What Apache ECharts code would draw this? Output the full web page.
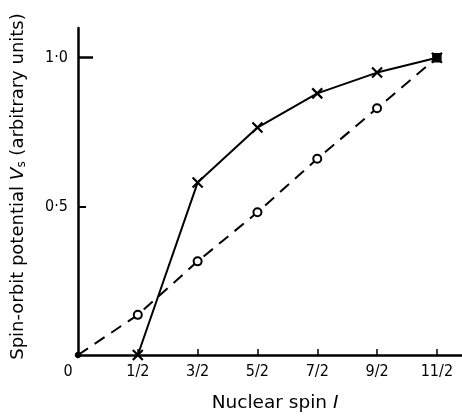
<!DOCTYPE html>
<html>
<head>
<meta charset="utf-8">
<script src="https://cdn.jsdelivr.net/npm/echarts@6/dist/echarts.min.js"></script>
<style>
  html, body { margin: 0; padding: 0; background: #fff; }
  #chart { width: 462px; height: 418px; }
</style>
</head>
<body>
<div id="chart"></div>
<script>
// nuclear spin labels, one per x position
var spinLabels = ["0", "1/2", "3/2", "5/2", "7/2", "9/2", "11/2"];
// crosses (solid line), starts at 1/2
var crossValues = [null, 0.0, 0.58, 0.765, 0.88, 0.95, 1.0];
// circles (dashed line)
var circleValues = [0.0, 0.135, 0.315, 0.48, 0.66, 0.83, 1.0];
var yTicks = [0.5, 1.0];

var FONT = "DejaVu Sans Condensed, DejaVu Sans, sans-serif";
var NAMEFONT = "DejaVu Sans, sans-serif";

var crossData = [];
var circleData = [];
for (var i = 0; i < spinLabels.length; i++) {
  if (crossValues[i] !== null) crossData.push([i, crossValues[i]]);
  var item = { value: [i, circleValues[i]] };
  if (i === 0) {
    item.symbol = "circle";
    item.symbolSize = 5;
    item.itemStyle = { color: "#000" };
  } else if (i === spinLabels.length - 1) {
    item.symbol = "rect";
    item.symbolSize = 8;
    item.itemStyle = { color: "#000" };
  }
  circleData.push(item);
}
var xPos = spinLabels.map(function (s, i) { return i; });

var chart = echarts.init(document.getElementById("chart"));
chart.setOption({
  animation: false,
  grid: { left: 78, right: 0, top: 28, bottom: 63 },
  xAxis: {
    type: "value",
    min: 0,
    max: 6.42,
    name: "Nuclear spin {i|I}",
    nameLocation: "middle",
    nameGap: 39,
    nameTextStyle: {
      fontFamily: NAMEFONT, fontSize: 18.5, color: "#000", padding: [0, 0, 0, 10],
      rich: { i: { fontFamily: NAMEFONT, fontSize: 18.5, fontStyle: "italic", color: "#000" } }
    },
    splitLine: { show: false },
    axisLine: { lineStyle: { color: "#000", width: 2.5 } },
    axisTick: {
      inside: true, length: 6, customValues: xPos.slice(1),
      lineStyle: { color: "#000", width: 1.5 }
    },
    axisLabel: {
      customValues: xPos,
      margin: 9,
      fontFamily: FONT, fontSize: 16, color: "#000",
      formatter: function (v) {
        var lab = spinLabels[Math.round(v)];
        return v === 0 ? "{o|" + lab + "}" : lab;
      },
      rich: { o: { fontFamily: FONT, fontSize: 16, color: "#000", padding: [0, 20, 0, 0] } }
    }
  },
  yAxis: [{
    type: "value",
    min: 0,
    max: 1.1,
    name: "{a|Spin-orbit potential }{v|V}{s|s}{a| (arbitrary units)}",
    nameLocation: "middle",
    nameGap: 50,
    nameRotate: 90,
    nameTextStyle: {
      padding: [0, 0, 0, 10],
      rich: {
        a: { fontFamily: NAMEFONT, fontSize: 18, color: "#000" },
        v: { fontFamily: NAMEFONT, fontSize: 18.5, fontStyle: "italic", color: "#000" },
        s: { fontFamily: NAMEFONT, fontSize: 12, color: "#000", verticalAlign: "bottom", padding: [8, 0, 0, 0] }
      }
    },
    splitLine: { show: false },
    axisLine: { lineStyle: { color: "#000", width: 2.5 } },
    axisTick: { inside: true, length: 8, customValues: [0.5], lineStyle: { color: "#000", width: 2 } },
    axisLabel: {
      customValues: yTicks,
      margin: 10,
      fontFamily: FONT, fontSize: 16, color: "#000",
      formatter: function (v) { return v.toFixed(1).replace(".", "\u00b7"); }
    }
  }, {
    type: "value",
    position: "left",
    min: 0,
    max: 1.1,
    splitLine: { show: false },
    axisLine: { show: false },
    axisLabel: { show: false },
    axisTick: { inside: true, length: 15, customValues: [1.0], lineStyle: { color: "#000", width: 2.5 } }
  }],
  series: [{
    type: "line",
    data: crossData,
    symbol: "path://M0,0L10,10M10,0L0,10",
    symbolSize: 10,
    itemStyle: { color: "none", borderColor: "#000", borderWidth: 2.2 },
    lineStyle: { color: "#000", width: 2 },
    z: 3
  }, {
    type: "line",
    data: circleData,
    symbol: "emptyCircle",
    symbolSize: 8,
    itemStyle: { color: "#000", borderColor: "#000", borderWidth: 1.5 },
    lineStyle: { color: "#000", width: 2, type: [12, 8] },
    z: 2
  }]
});
</script>
</body>
</html>
